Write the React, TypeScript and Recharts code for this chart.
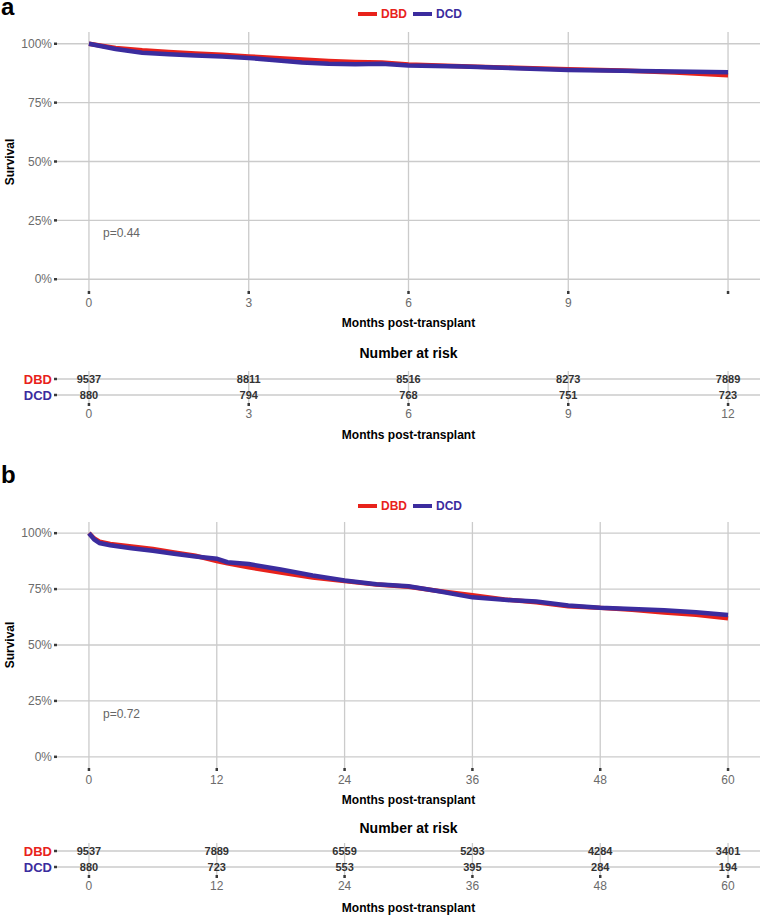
import React from "react";
import { LineChart, Line, XAxis, YAxis, CartesianGrid, ScatterChart, Scatter } from "recharts";

const FONT = "'Liberation Sans', Arial, Helvetica, sans-serif";
const RED = "#E8221B";
const BLUE = "#3B2C9E";
const GRID = "#cbcbcb";
const TICK_GREY = "#6b6b6b";

// panel a - first year
const monthsA = [0, 0.5, 1, 1.5, 2, 2.5, 3, 3.5, 4, 4.5, 5, 5.5, 6, 7, 8, 9, 10, 11, 12];
const dbdA = [100, 98.2, 97.2, 96.5, 95.9, 95.3, 94.6, 94.0, 93.3, 92.7, 92.3, 92.0, 91.2, 90.5, 89.8, 89.2, 88.6, 87.8, 86.6];
const dcdA = [100, 97.8, 96.2, 95.5, 95.0, 94.6, 94.0, 93.0, 92.0, 91.5, 91.3, 91.5, 90.8, 90.3, 89.6, 88.9, 88.5, 88.2, 87.9];
const ticksA = [0, 3, 6, 9, 12];
const tickLabelsA = ["0", "3", "6", "9", ""];
const riskLabelsA = ["0", "3", "6", "9", "12"];
const riskDbdA = [9537, 8811, 8516, 8273, 7889];
const riskDcdA = [880, 794, 768, 751, 723];

// panel b - five years
const monthsB = [0, 0.5, 1, 2, 4, 6, 8, 10, 12, 13, 15, 18, 21, 24, 27, 30, 33, 36, 39, 42, 45, 48, 51, 54, 57, 60];
const dbdB = [100, 97.6, 96.2, 95.2, 94.0, 92.9, 91.4, 89.9, 87.5, 86.5, 84.7, 82.4, 80.2, 78.6, 77.0, 76.0, 74.0, 72.3, 70.4, 69.1, 67.3, 66.6, 65.8, 64.5, 63.5, 61.9];
const dcdB = [100, 97.2, 95.6, 94.6, 93.3, 92.1, 90.8, 89.6, 88.6, 87.0, 86.2, 83.8, 81.1, 78.8, 77.2, 76.3, 73.9, 71.3, 70.2, 69.4, 67.7, 66.7, 66.1, 65.5, 64.6, 63.4];
const ticksB = [0, 12, 24, 36, 48, 60];
const tickLabelsB = ["0", "12", "24", "36", "48", "60"];
const riskDbdB = [9537, 7889, 6559, 5293, 4284, 3401];
const riskDcdB = [880, 723, 553, 395, 284, 194];

const yTicks = [0, 25, 50, 75, 100];
const groups = ["DBD", "DCD"];

const tickLine = { stroke: "#3a3a3a", strokeWidth: 2.5 };

function SurvChart({ months, dbd, dcd, ticks, labels, xMax, plotH }: any) {
  const rows = months.map((t: number, i: number) => ({ t, dbd: dbd[i], dcd: dcd[i] }));
  const pad = xMax * 0.05;
  return (
    <LineChart width={762} height={32 + plotH + 45} data={rows} margin={{ top: 32, right: 2, bottom: 0, left: 0 }}>
      <CartesianGrid stroke={GRID} strokeWidth={1.3} syncWithTicks />
      <XAxis
        type="number"
        dataKey="t"
        domain={[-pad, xMax + pad]}
        ticks={ticks}
        interval={0}
        allowDataOverflow
        tickFormatter={(v: number) => labels[ticks.indexOf(v)]}
        axisLine={false}
        tickLine={tickLine}
        tickSize={3}
        tickMargin={4}
        height={45}
        tick={{ fill: TICK_GREY, fontSize: 12, fontFamily: FONT }}
      />
      <YAxis
        type="number"
        domain={[-5, 105]}
        ticks={yTicks}
        interval={0}
        allowDataOverflow
        tickFormatter={(v: number) => `${v}%`}
        axisLine={false}
        tickLine={tickLine}
        tickSize={3}
        tickMargin={2}
        width={57}
        tick={{ fill: TICK_GREY, fontSize: 12, fontFamily: FONT }}
      />
      <Line type="linear" dataKey="dbd" stroke={RED} strokeWidth={4.5} dot={false} isAnimationActive={false} />
      <Line type="linear" dataKey="dcd" stroke={BLUE} strokeWidth={4.5} dot={false} isAnimationActive={false} />
    </LineChart>
  );
}

const countShape = (props: any) => (
  <text x={props.cx} y={props.cy} dy="0.35em" textAnchor="middle" fontSize={11} fontWeight="bold" fill="#333" fontFamily={FONT}>
    {props.payload.n}
  </text>
);

const groupTick = (props: any) => {
  const name = props.payload.value === 1 ? groups[0] : groups[1];
  return (
    <text x={props.x} y={props.y} dy="0.35em" textAnchor="end" fontSize={13} fontWeight="bold" fill={name === "DBD" ? RED : BLUE} fontFamily={FONT}>
      {name}
    </text>
  );
};

function RiskChart({ ticks, labels, xMax, dbd, dcd }: any) {
  const pad = xMax * 0.05;
  const dbdRows = ticks.map((t: number, i: number) => ({ t, row: 1, n: dbd[i] }));
  const dcdRows = ticks.map((t: number, i: number) => ({ t, row: 0, n: dcd[i] }));
  return (
    <ScatterChart width={762} height={31 + 32 + 40} margin={{ top: 31, right: 2, bottom: 0, left: 0 }}>
      <CartesianGrid stroke={GRID} strokeWidth={1.3} syncWithTicks />
      <XAxis
        type="number"
        dataKey="t"
        domain={[-pad, xMax + pad]}
        ticks={ticks}
        interval={0}
        allowDataOverflow
        tickFormatter={(v: number) => labels[ticks.indexOf(v)]}
        axisLine={false}
        tickLine={tickLine}
        tickSize={3}
        tickMargin={3}
        height={40}
        tick={{ fill: TICK_GREY, fontSize: 12, fontFamily: FONT }}
      />
      <YAxis
        type="number"
        dataKey="row"
        domain={[-0.5, 1.5]}
        ticks={[0, 1]}
        interval={0}
        axisLine={false}
        tickLine={tickLine}
        tickSize={3}
        tickMargin={2}
        width={57}
        tick={groupTick}
      />
      <Scatter data={dbdRows} shape={countShape} isAnimationActive={false} />
      <Scatter data={dcdRows} shape={countShape} isAnimationActive={false} />
    </ScatterChart>
  );
}

const abs = (left: number, top: number, extra: React.CSSProperties = {}): React.CSSProperties => ({
  position: "absolute",
  left,
  top,
  fontFamily: FONT,
  whiteSpace: "nowrap",
  ...extra,
});

function LegendRow({ top }: { top: number }) {
  return (
    <div style={abs(358, top, { display: "flex", alignItems: "center", fontSize: 12, fontWeight: "bold" })}>
      <span style={{ width: 19, height: 4, background: RED, marginRight: 4 }} />
      <span style={{ color: RED, marginRight: 6 }}>DBD</span>
      <span style={{ width: 19, height: 4, background: BLUE, marginRight: 4 }} />
      <span style={{ color: BLUE }}>DCD</span>
    </div>
  );
}

function Centered({ y, size, children }: any) {
  return (
    <div style={abs(57, y - size * 0.6, { width: 703, textAlign: "center", fontSize: size, fontWeight: "bold", color: "#000", lineHeight: `${size * 1.2}px` })}>
      {children}
    </div>
  );
}

function SurvivalLabel({ cy }: { cy: number }) {
  return (
    <div style={abs(10, cy, { transform: "translate(-50%, -50%) rotate(-90deg)", fontSize: 12, fontWeight: "bold", color: "#000" })}>
      Survival
    </div>
  );
}

export default function App() {
  return (
    <div style={{ position: "absolute", left: 0, top: 0, width: 762, height: 915, background: "#fff", overflow: "hidden" }}>
      {/* panel a */}
      <div style={abs(1, 0, { fontSize: 24, fontWeight: "bold", lineHeight: "14px", paddingTop: 0 })}>a</div>
      <div style={{ position: "absolute", left: 0, top: 0 }}>
        <SurvChart months={monthsA} dbd={dbdA} dcd={dcdA} ticks={ticksA} labels={tickLabelsA} xMax={12} plotH={259} />
      </div>
      <LegendRow top={7} />
      <SurvivalLabel cy={162} />
      <div style={abs(103, 226, { fontSize: 12, color: "#666", lineHeight: "14px" })}>p=0.44</div>
      <Centered y={323} size={12}>Months post-transplant</Centered>
      <Centered y={353} size={14}>Number at risk</Centered>
      <div style={{ position: "absolute", left: 0, top: 340 }}>
        <RiskChart ticks={ticksA} labels={riskLabelsA} xMax={12} dbd={riskDbdA} dcd={riskDcdA} />
      </div>
      <Centered y={435} size={12}>Months post-transplant</Centered>

      {/* panel b */}
      <div style={abs(1, 468, { fontSize: 24, fontWeight: "bold", lineHeight: "14px" })}>b</div>
      <div style={{ position: "absolute", left: 0, top: 490 }}>
        <SurvChart months={monthsB} dbd={dbdB} dcd={dcdB} ticks={ticksB} labels={tickLabelsB} xMax={60} plotH={246} />
      </div>
      <LegendRow top={499} />
      <SurvivalLabel cy={645} />
      <div style={abs(103, 707, { fontSize: 12, color: "#666", lineHeight: "14px" })}>p=0.72</div>
      <Centered y={800} size={12}>Months post-transplant</Centered>
      <Centered y={828} size={14}>Number at risk</Centered>
      <div style={{ position: "absolute", left: 0, top: 812 }}>
        <RiskChart ticks={ticksB} labels={tickLabelsB} xMax={60} dbd={riskDbdB} dcd={riskDcdB} />
      </div>
      <Centered y={908} size={12}>Months post-transplant</Centered>
    </div>
  );
}
